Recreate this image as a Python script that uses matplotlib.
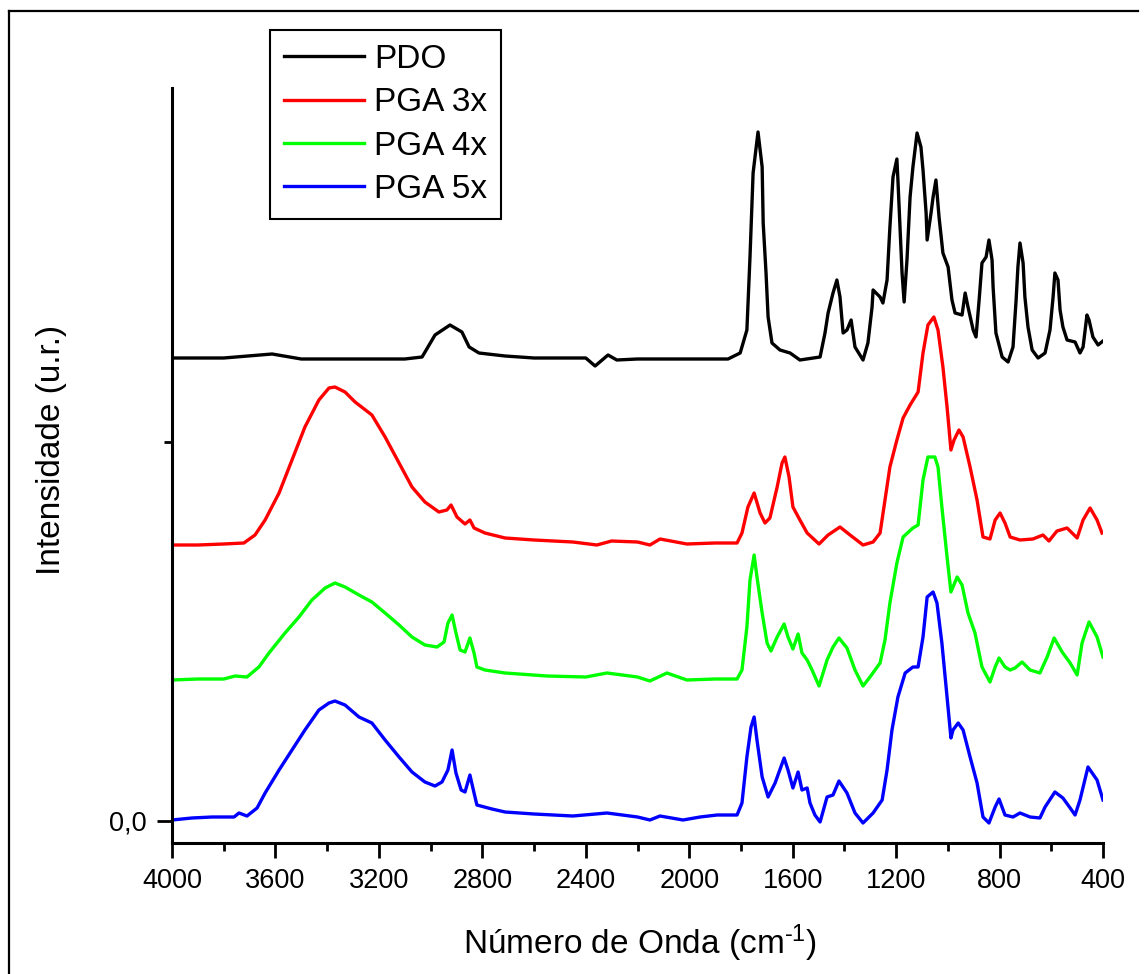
import matplotlib
matplotlib.use("Agg")
import matplotlib.pyplot as plt
from matplotlib.ticker import MultipleLocator, FuncFormatter
from matplotlib.lines import Line2D

plt.rcParams['font.family'] = ['Liberation Sans', 'DejaVu Sans']
plt.rcParams['mathtext.fontset'] = 'custom'
plt.rcParams['mathtext.rm'] = 'Liberation Sans'
plt.rcParams['mathtext.it'] = 'Liberation Sans:italic'

#Espectros FTIR (numero de onda en cm-1, intensidad en u.a.)
wn_pdo = [4000, 3800, 3613, 3500, 3300, 3100, 3033, 2983, 2925, 2879, 2851, 2813, 2712, 2600,
          2400, 2364, 2314, 2280, 2200, 2000, 1850, 1803, 1777, 1765, 1753, 1734, 1718, 1714,
          1703, 1695, 1680, 1649, 1610, 1572, 1494, 1475, 1463, 1444, 1429, 1417, 1405, 1390,
          1374, 1359, 1328, 1309, 1293, 1289, 1262, 1251, 1235, 1224, 1212, 1197, 1193, 1185,
          1177, 1169, 1158, 1146, 1135, 1119, 1104, 1096, 1084, 1080, 1065, 1057, 1046, 1034,
          1019, 999, 984, 972, 945, 933, 922, 902, 891, 879, 868, 852, 841, 829, 825, 814, 790,
          767, 748, 736, 729, 721, 709, 702, 690, 674, 651, 624, 605, 593, 586, 574, 566, 555,
          539, 508, 489, 477, 462, 454, 439, 419, 400]
int_pdo = [463, 463, 467, 462, 462, 462, 464, 486, 496, 489, 474, 468, 465, 463,
           463, 455, 466, 461, 462, 462, 462, 468, 491, 564, 648, 689, 654, 598,
           548, 504, 478, 471, 468, 461, 464, 488, 508, 528, 541, 524, 488, 491,
           501, 474, 461, 478, 514, 531, 524, 518, 541, 594, 644, 662, 641, 594,
           548, 519, 561, 624, 654, 688, 674, 651, 608, 581, 608, 624, 641, 604,
           568, 554, 521, 508, 506, 528, 514, 491, 484, 521, 558, 564, 581, 561, 534, 488, 464,
           459, 474, 521, 554, 578, 558, 524, 494, 471, 463, 468, 491, 524, 548, 541, 511, 494,
           481, 479, 468, 474, 506, 501, 484, 476, 480]

wn_pga3 = [4000, 3900, 3800, 3722, 3679, 3640, 3586, 3536, 3486, 3432, 3393, 3370, 3331, 3292,
           3227, 3176, 3122, 3072, 3022, 2968, 2937, 2921, 2898, 2867, 2848, 2832, 2790, 2712,
           2600, 2450, 2357, 2300, 2200, 2152, 2113, 2009, 1900, 1815, 1796, 1773, 1749, 1726,
           1707, 1688, 1660, 1641, 1630, 1614, 1599, 1572, 1544, 1498, 1463, 1417, 1378, 1328,
           1289, 1262, 1243, 1224, 1197, 1173, 1146, 1115, 1096, 1077, 1054, 1038, 1019, 1003,
           988, 976, 957, 941, 914, 887, 864, 837, 817, 798, 779, 759, 721, 671, 632, 609, 578,
           539, 500, 477, 450, 423, 404]
int_pga3 = [276, 276, 277, 278, 286, 301, 328, 361, 394, 421, 433, 434, 429, 419,
            406, 384, 358, 334, 319, 309, 311, 316, 304, 297, 301, 293, 288, 283,
            281, 279, 276, 280, 279, 276, 282, 277, 278, 278, 288, 314, 328, 308,
            298, 303, 334, 358, 364, 344, 314, 301, 288, 277, 286, 294, 286, 276,
            279, 288, 321, 354, 381, 403, 416, 429, 468, 496, 504, 491, 454, 414,
            371, 381, 391, 384, 354, 321, 284, 282, 301, 308, 298, 284, 281, 282, 286, 280, 290,
            293, 283, 301, 313, 301, 288]

wn_pga4 = [4000, 3900, 3800, 3756, 3710, 3664, 3625, 3563, 3509, 3459, 3408, 3370, 3331, 3277,
           3227, 3176, 3122, 3072, 3022, 2975, 2948, 2933, 2917, 2902, 2886, 2867, 2848, 2832,
           2821, 2790, 2712, 2550, 2400, 2318, 2200, 2152, 2086, 2009, 1900, 1815, 1796, 1777,
           1765, 1749, 1738, 1718, 1699, 1684, 1660, 1633, 1618, 1599, 1579, 1564, 1544, 1525,
           1498, 1467, 1444, 1421, 1390, 1359, 1328, 1301, 1262, 1243, 1224, 1197, 1173, 1135,
           1115, 1096, 1077, 1050, 1038, 1023, 1003, 988, 964, 945, 922, 895, 868, 837, 817, 802,
           779, 759, 740, 713, 682, 644, 616, 589, 558, 527, 500, 481, 454, 423, 400]
int_pga4 = [141, 142, 142, 145, 144, 154, 168, 188, 204, 221, 233, 238, 234, 226,
            219, 208, 196, 184, 176, 174, 179, 198, 206, 188, 171, 169, 183, 168,
            154, 151, 148, 145, 144, 148, 144, 140, 148, 141, 142, 142, 151, 194,
            241, 266, 244, 208, 178, 170, 184, 197, 184, 172, 187, 168, 161, 151,
            135, 161, 174, 183, 173, 151, 135, 144, 158, 181, 218, 258, 284, 293,
            296, 341, 364, 364, 354, 314, 264, 229, 244, 236, 208, 188, 154, 139, 154, 163,
            154, 151, 153, 159, 151, 148, 164, 183, 169, 158, 146, 178, 199, 184, 164]

wn_pga5 = [4000, 3923, 3845, 3760, 3741, 3710, 3671, 3640, 3586, 3536, 3486, 3432, 3393, 3370,
           3331, 3277, 3227, 3176, 3122, 3072, 3022, 2983, 2956, 2933, 2917, 2902, 2882, 2867,
           2848, 2832, 2821, 2763, 2712, 2600, 2450, 2318, 2200, 2152, 2113, 2024, 1958, 1892,
           1815, 1796, 1777, 1761, 1749, 1738, 1718, 1695, 1668, 1633, 1618, 1599, 1579, 1564,
           1544, 1533, 1514, 1494, 1467, 1444, 1421, 1390, 1359, 1328, 1289, 1254, 1235, 1216,
           1193, 1165, 1135, 1115, 1096, 1080, 1057, 1042, 1023, 1003, 988, 980, 960, 941, 914,
           887, 864, 841, 817, 802, 779, 748, 721, 682, 644, 624, 586, 555, 527, 508, 489, 458,
           423, 400]
int_pga5 = [1, 3, 4, 4, 8, 5, 13, 28, 51, 71, 91, 111, 118, 120,
            116, 104, 98, 81, 64, 49, 39, 35, 39, 51, 71, 48, 31, 29,
            46, 28, 16, 12, 9, 7, 5, 8, 4, 1, 5, 1, 4, 6,
            6, 18, 64, 94, 104, 81, 44, 24, 38, 63, 51, 33, 49, 31,
            33, 18, 6, -1, 24, 26, 40, 28, 8, -2, 8, 21, 51, 91,
            124, 148, 154, 154, 184, 224, 229, 218, 178, 124, 83, 91, 98, 91, 64,
            38, 4, -2, 14, 22, 6, 4, 8, 4, 3, 14, 29, 23, 13, 6, 21, 54,
            41, 21]

nombres = ["PDO", "PGA 3x", "PGA 4x", "PGA 5x"]
colores = ["black", "#ff0000", "#00ff00", "#0000ff"]

fig = plt.figure(figsize=(11.48, 9.74), dpi=100)
ax = fig.add_axes([172 / 1148, 131 / 974, 931 / 1148, 755 / 974])

series = [(wn_pdo, int_pdo), (wn_pga3, int_pga3), (wn_pga4, int_pga4), (wn_pga5, int_pga5)]
for (x, y), nombre, color in zip(series, nombres, colores):
    ax.plot(x, y, color=color, lw=2.4, label=nombre)

#Ejes
ax.set_xlim(4000, 400)
ax.set_ylim(-22, 733)
ax.xaxis.set_major_locator(MultipleLocator(400))
ax.xaxis.set_minor_locator(MultipleLocator(200))
ax.yaxis.set_major_locator(MultipleLocator(758))
ax.yaxis.set_minor_locator(MultipleLocator(379))
ax.yaxis.set_major_formatter(FuncFormatter(lambda v, p: f"{v:.1f}".replace(".", ",")))

for lado in ["top", "right"]:
    ax.spines[lado].set_visible(False)
for lado in ["left", "bottom"]:
    ax.spines[lado].set_linewidth(2.2)

ax.tick_params(axis="both", which="major", direction="out", length=11, width=2.0,
               labelsize=19.5, pad=7)
ax.tick_params(axis="both", which="minor", direction="out", length=6, width=2.0)

ax.set_xlabel("Número de Onda (cm$^{\u2010 1}$)", fontsize=24)
ax.set_ylabel("Intensidade (u.r.)", fontsize=24)
ax.xaxis.set_label_coords(0.503, -0.105)
ax.yaxis.set_label_coords(-0.113, 0.52)

#Leyenda
ax.legend(loc="upper left", bbox_to_anchor=(270 / 1148, 1 - 30 / 974),
          bbox_transform=fig.transFigure, borderaxespad=0, fontsize=24,
          frameon=True, fancybox=False, edgecolor="black", framealpha=1,
          handlelength=2.4, handletextpad=0.3, labelspacing=0.37, borderpad=0.42)
ax.get_legend().get_frame().set_linewidth(1.5)

#Marco de la figura
fig.add_artist(Line2D([9 / 1148, 1138 / 1148], [1 - 11 / 974, 1 - 11 / 974],
                      transform=fig.transFigure, color="black", lw=1.6))
fig.add_artist(Line2D([9 / 1148, 9 / 1148], [0, 1 - 11 / 974],
                      transform=fig.transFigure, color="black", lw=1.6))

fig.savefig("out.png", dpi=100)
